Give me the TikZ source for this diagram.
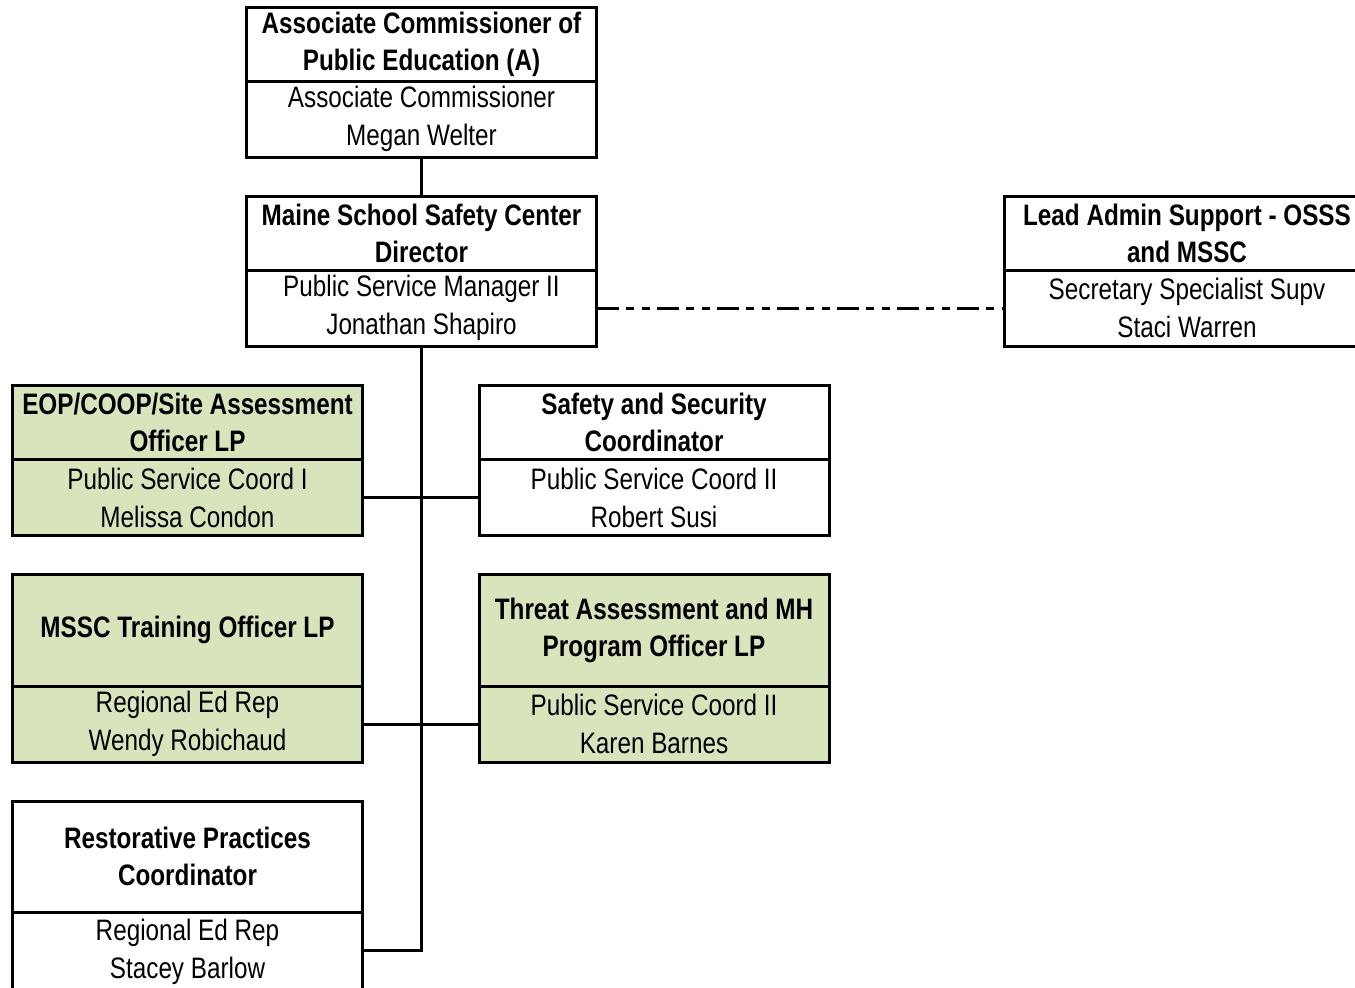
\documentclass[tikz,border=0pt]{standalone}
\usepackage{fontspec}
\setmainfont[FakeStretch=0.82]{Liberation Sans}
\usetikzlibrary{positioning}
\definecolor{lpgreen}{HTML}{D8E4BC}

\tikzset{
  box/.style={draw, line width=1.5pt, outer sep=0pt, inner sep=0pt,
    minimum width=175pt, align=center},
  head/.style={box, minimum height=37pt, font=\bfseries\fontsize{14.8}{18.5}\selectfont},
  body/.style={box, minimum height=38pt, font=\fontsize{14.8}{19}\selectfont},
  lp/.style={fill=lpgreen},
  tree/.style={line width=1.5pt},
  dotline/.style={line width=1.5pt,
    dash pattern=on 11pt off 3.5pt on 4pt off 4pt on 4pt off 3.5pt}
}

\begin{document}
\begin{tikzpicture}[x=0.5pt,y=-0.5pt,node distance=0pt]
  \path[use as bounding box, clip] (0,0) rectangle (1355,987);

  % top of the tree
  \node[head] (assocT) at (421.5,44) {Associate Commissioner of\\Public Education (A)};
  \node[body] (assoc) [below=of assocT] {Associate Commissioner\\Megan Welter};

  \node[head] (dirT) at (421.5,233) {Maine School Safety Center\\Director};
  \node[body] (dir) [below=of dirT] {Public Service Manager II\\Jonathan Shapiro};

  \node[head, minimum width=183pt] (adminT) at (1187,233) {Lead Admin Support - OSSS\\and MSSC};
  \node[body, minimum width=183pt] (admin) [below=of adminT] {Secretary Specialist Supv\\Staci Warren};

  % staff
  \node[head, lp] (eopT) at (187.5,422.5) {EOP/COOP/Site Assessment\\Officer LP};
  \node[body, lp] (eop) [below=of eopT] {Public Service Coord I\\Melissa Condon};

  \node[head] (safeT) at (654,422.5) {Safety and Security\\Coordinator};
  \node[body] (safe) [below=of safeT] {Public Service Coord II\\Robert Susi};

  \node[head, lp, minimum height=56pt] (trainT) at (187.5,630) {MSSC Training Officer LP};
  \node[body, lp] (train) [below=of trainT] {Regional Ed Rep\\Wendy Robichaud};

  \node[head, lp, minimum height=56pt] (threatT) at (654,630) {Threat Assessment and MH\\Program Officer LP};
  \node[body, lp] (threat) [below=of threatT] {Public Service Coord II\\Karen Barnes};

  \node[head, minimum height=55.5pt] (restT) at (187.5,856.5) {Restorative Practices\\Coordinator};
  \node[body, minimum height=39.5pt] (rest) [below=of restT] {Regional Ed Rep\\Stacey Barlow};

  % lines
  \draw[tree] (assoc.south) -- (dirT.north);
  \draw[tree] (dir.south) |- ([yshift=0.75pt]rest.east);
  \draw[tree] (eop.east) -- (safe.west);
  \draw[tree] (train.east) -- (threat.west);
  \draw[dotline] (dir.east) -- (admin.west);
\end{tikzpicture}
\end{document}
